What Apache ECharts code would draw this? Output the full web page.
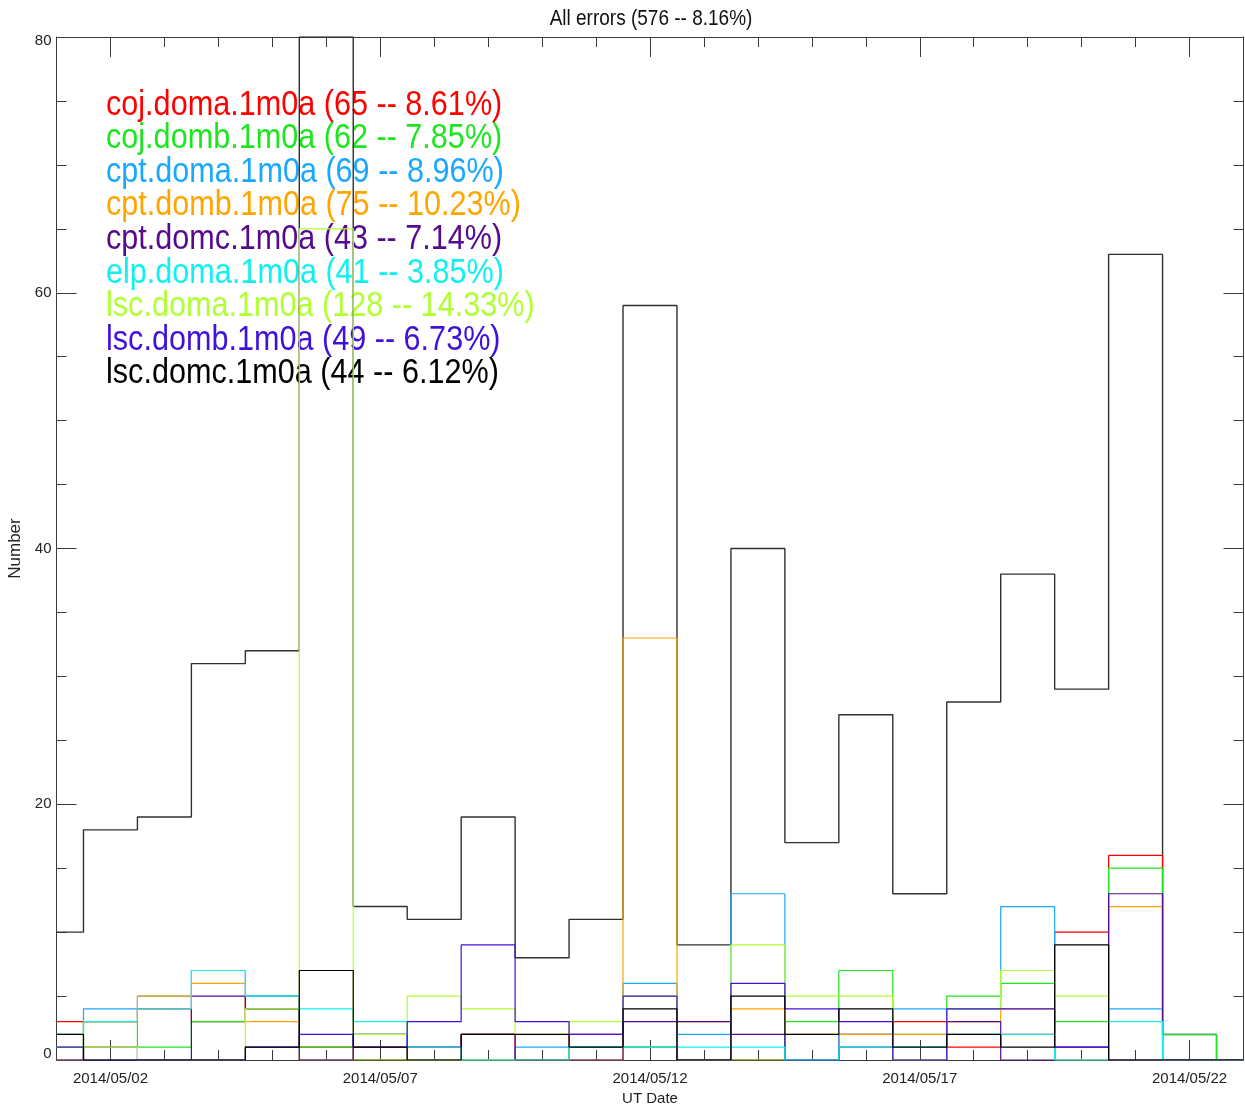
<!DOCTYPE html>
<html><head><meta charset="utf-8">
<script src="https://cdn.jsdelivr.net/npm/echarts@6/dist/echarts.min.js"></script>
<style>html,body{margin:0;padding:0;background:#fff}#c{width:1245px;height:1106px}</style>
</head><body><div id="c"></div>
<script>
// ---- data ----
const dates = ['2014/05/01','2014/05/02','2014/05/03','2014/05/04','2014/05/05','2014/05/06','2014/05/07','2014/05/08','2014/05/09','2014/05/10','2014/05/11','2014/05/12','2014/05/13','2014/05/14','2014/05/15','2014/05/16','2014/05/17','2014/05/18','2014/05/19','2014/05/20','2014/05/21','2014/05/22','2014/05/23'];
const labelDates = ['2014/05/02','2014/05/07','2014/05/12','2014/05/17','2014/05/22'];
const yTicks = [0,20,40,60,80];
const totalCount = 576, totalPct = '8.16%';
const allErrors = [10,18,19,31,32,80,12,11,19,8,11,59,9,40,17,27,13,28,38,29,63,2,0];
const cojDoma = [3,3,4,3,5,1,0,1,2,0,2,1,0,0,0,2,3,1,2,10,16,0,0];
const cojDomb = [1,3,1,3,4,1,0,0,0,0,1,1,0,0,3,7,2,5,6,3,15,2,0];
const cptDoma = [0,4,5,7,5,0,2,0,0,1,1,6,2,13,0,2,4,4,12,0,4,0,0];
const cptDomb = [0,3,5,6,3,0,1,0,0,0,0,33,3,4,2,2,2,3,4,0,12,0,0];
const cptDomc = [0,1,0,5,4,0,2,1,2,0,0,3,3,2,0,1,0,3,0,1,13,0,0];
const elpDoma = [2,3,4,7,5,4,3,1,0,0,1,1,1,1,0,1,1,2,2,0,3,0,0];
const lscDoma = [1,1,0,0,4,65,2,5,4,2,3,5,0,9,5,5,0,4,7,5,0,0,0];
const lscDomb = [1,0,0,0,1,2,1,3,9,3,2,5,0,6,4,3,0,4,4,1,0,0,0];
const lscDomc = [2,0,0,0,1,7,1,0,2,2,1,4,0,5,2,4,1,2,1,9,0,0,0];
const siteNames = ['coj.doma.1m0a','coj.domb.1m0a','cpt.doma.1m0a','cpt.domb.1m0a','cpt.domc.1m0a','elp.doma.1m0a','lsc.doma.1m0a','lsc.domb.1m0a','lsc.domc.1m0a'];
const siteCounts = [65,62,69,75,43,41,128,49,44];
const sitePcts = ['8.61%','7.85%','8.96%','10.23%','7.14%','3.85%','14.33%','6.73%','6.12%'];
const siteData = [cojDoma,cojDomb,cptDoma,cptDomb,cptDomc,elpDoma,lscDoma,lscDomb,lscDomc];
const siteColors = ['#ff0000','#1ee61e','#1aa8ff','#ffa500','#560a8c','#11f0f0','#b0ff30','#4010dc','#000000'];

// ---- chart ----
const FONT = '"Liberation Sans", Arial, sans-serif';
const chart = echarts.init(document.getElementById('c'), null, {renderer:'canvas'});
const isMajor = (i) => labelDates.indexOf(dates[i]) >= 0;
const axisCol = '#3a3a3a';
const xBase = (pos, major) => ({
  type:'category', data: dates, boundaryGap:false, position: pos,
  axisLine:{show: major, lineStyle:{color: axisCol, width:1}},
  axisTick:{show:true, inside:true, length: major?20:10, interval: major ? (i)=>isMajor(i) : 0, lineStyle:{color: axisCol}},
  axisLabel:{show:false}, splitLine:{show:false}
});
const xAxes = [
  Object.assign(xBase('bottom', true), {
    axisLabel:{show:true, interval:(i)=>isMajor(i), fontSize:15, color:'#222', fontFamily:FONT, margin:11},
    name:'UT Date', nameLocation:'middle', nameGap:30, nameTextStyle:{fontSize:15, color:'#222', fontFamily:FONT}
  }),
  xBase('bottom', false),
  xBase('top', true),
  xBase('top', false)
];
const yBase = (pos, labels) => ({
  type:'value', min: yTicks[0], max: yTicks[yTicks.length-1], interval: yTicks[1]-yTicks[0], position: pos,
  axisLine:{show:true, lineStyle:{color: axisCol, width:1}},
  axisTick:{show:true, inside:true, length:20, lineStyle:{color: axisCol}},
  minorTick:{show:true, splitNumber:4, length:10, lineStyle:{color: axisCol}},
  splitLine:{show:false},
  axisLabel: labels ? {
    show:true, fontSize:15, color:'#222', fontFamily:FONT, margin:5,
    formatter:(v)=> v===yTicks[yTicks.length-1] ? '{t|'+v+'}' : (v===yTicks[0] ? '{b|'+v+'}' : '{m|'+v+'}'),
    rich:{
      t:{fontSize:15, color:'#222', fontFamily:FONT, padding:[8,0,0,0]},
      b:{fontSize:15, color:'#222', fontFamily:FONT, padding:[0,0,12,0]},
      m:{fontSize:15, color:'#222', fontFamily:FONT}
    }
  } : {show:false}
});
const lineSeries = (name, data, color, width, z) => ({
  name, type:'line', step:'middle', data, xAxisIndex:0, yAxisIndex:0,
  symbol:'none', showSymbol:false, clip:true, z,
  lineStyle:{color, width}, itemStyle:{color}, emphasis:{disabled:true}, animation:false
});
const series = [lineSeries('All errors', allErrors, '#303030', 1.4, 2)];
siteData.forEach((d,i)=>series.push(lineSeries(siteNames[i], d, siteColors[i], 1.2, 3+i)));

const legendTexts = siteNames.map((n,i)=>({
  type:'text', x:106, y:105 + i*33.6, z:1, scaleX:1.02, scaleY:1.16,
  style:{text: n + ' (' + siteCounts[i] + ' -- ' + sitePcts[i] + ')', fill: siteColors[i],
         font: '30px ' + FONT, verticalAlign:'middle', textAlign:'left'}
}));
const titleText = {
  type:'text', x:651, y:19, z:1, scaleY:1.16,
  style:{text:'All errors (' + totalCount + ' -- ' + totalPct + ')', fill:'#111',
         font:'19px ' + FONT, verticalAlign:'middle', textAlign:'center'}
};

chart.setOption({
  animation:false,
  backgroundColor:'#ffffff',
  grid:{left:56.5, right:1.5, top:37, bottom:46, containLabel:false, outerBoundsMode:'none'},
  xAxis: xAxes,
  yAxis:[
    Object.assign(yBase('left', true), {name:'Number', nameLocation:'middle', nameGap:33, nameRotate:90,
      nameTextStyle:{fontSize:17, color:'#222', fontFamily:FONT}}),
    yBase('right', false)
  ],
  graphic: legendTexts.concat([titleText]),
  series
});
</script></body></html>
